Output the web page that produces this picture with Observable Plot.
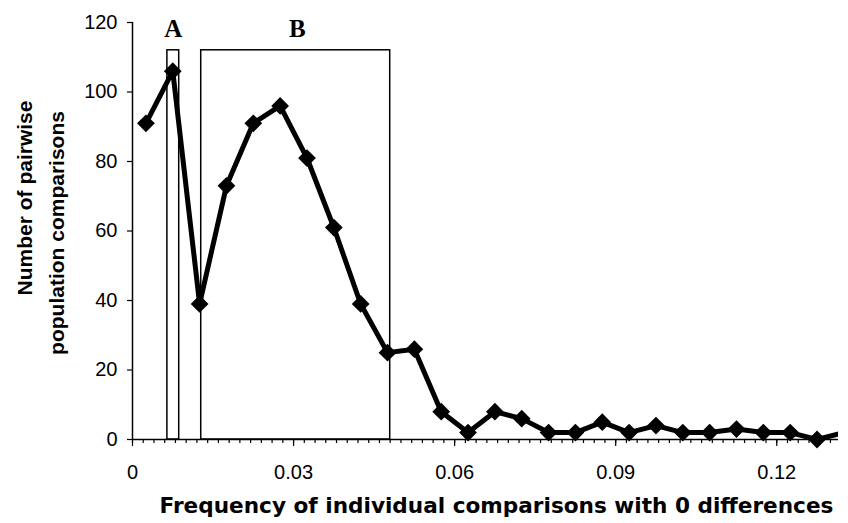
<!DOCTYPE html>
<html>
<head>
<meta charset="utf-8">
<script src="https://cdn.jsdelivr.net/npm/d3@7"></script>
<script src="https://cdn.jsdelivr.net/npm/@observablehq/plot@0.6"></script>
<style>
  html, body { margin: 0; padding: 0; background: #fff; }
  #chart svg { display: block; }
</style>
</head>
<body>
<div id="chart"></div>
<script>
// Bin centres (frequency of individual comparisons with 0 differences)
const freq = [0.0025, 0.0075, 0.0125, 0.0175, 0.0225, 0.0275, 0.0325, 0.0375, 0.0425, 0.0475,
              0.0525, 0.0575, 0.0625, 0.0675, 0.0725, 0.0775, 0.0825, 0.0875, 0.0925, 0.0975,
              0.1025, 0.1075, 0.1125, 0.1175, 0.1225, 0.1275, 0.1325];
// Number of pairwise population comparisons
const counts = [91, 106, 39, 73, 91, 96, 81, 61, 39, 25,
                26, 8, 2, 8, 6, 2, 2, 5, 2, 4,
                2, 2, 3, 2, 2, 0, 2];
// Highlighted regions
const regionNames = ["A", "B"];
const regionStart = [0.0065, 0.0128];
const regionEnd = [0.0087, 0.0480];
const regionTop = [112, 112];
const regionLabelX = [0.0076, 0.0307];
const regionLabelY = [118, 118];
// Axes
const xTickLabels = [0, 0.03, 0.06, 0.09, 0.12];
const xMinorStep = 0.002;
const yTicks = [0, 20, 40, 60, 80, 100, 120];
const xMax = 0.1315;
const yTitleLines = ["Number of pairwise", "population comparisons"];

const data = freq.map((f, i) => ({x: f, y: counts[i]}));
const regions = regionNames.map((n, i) => ({name: n, x1: regionStart[i], x2: regionEnd[i], top: regionTop[i], lx: regionLabelX[i], ly: regionLabelY[i]}));
const minorTicks = d3.range(0, xMax + 1e-9, xMinorStep);

const chart = Plot.plot({
  width: 848,
  height: 523,
  marginLeft: 132,
  marginRight: 10,
  marginTop: 22,
  marginBottom: 84,
  style: {fontFamily: "'Liberation Sans', Arial, sans-serif", fontSize: "20px", color: "#000", background: "#fff"},
  x: {domain: [0, xMax]},
  y: {domain: [0, 120]},
  marks: [
    // region boxes
    Plot.rect(regions, {x1: "x1", x2: "x2", y1: 0, y2: "top", fill: "none", stroke: "#000", strokeWidth: 1.5}),
    Plot.text(regions, {x: "lx", y: "ly", text: "name", fontFamily: "'Liberation Serif', 'Times New Roman', serif", fontWeight: "bold", fontSize: 25, fill: "#000"}),
    // axes
    Plot.axisX(minorTicks, {tickSize: 4, text: null, stroke: "#000", strokeWidth: 1.2}),
    Plot.axisX(xTickLabels, {tickSize: 7, tickPadding: 18, tickFormat: d => d === 0 ? "0" : d3.format(".2f")(d), fontSize: 20, stroke: "#000", strokeWidth: 1.2, fill: "#000", label: null}),
    Plot.axisY(yTicks, {tickSize: 5, tickPadding: 10, fontSize: 20, stroke: "#000", strokeWidth: 1.2, fill: "#000", label: null}),
    Plot.ruleX([0], {stroke: "#000", strokeWidth: 1.5}),
    Plot.ruleY([0], {stroke: "#000", strokeWidth: 1.5}),
    // data
    Plot.line(data, {x: "x", y: "y", stroke: "#000", strokeWidth: 5, strokeLinejoin: "round", clip: true}),
    Plot.dot(data.filter(d => d.x <= xMax), {x: "x", y: "y", symbol: "diamond2", r: 8, fill: "#000", stroke: "none"}),
    // axis titles
    Plot.text([yTitleLines[0]], {frameAnchor: "left", textAnchor: "middle", dx: -107, dy: -33, rotate: -90, fontWeight: "bold", fontSize: 21, fill: "#000"}),
    Plot.text([yTitleLines[1]], {frameAnchor: "left", textAnchor: "middle", dx: -75, dy: 2, rotate: -90, fontWeight: "bold", fontSize: 21, fill: "#000"}),
    Plot.text(["Frequency of individual comparisons with 0 differences"], {frameAnchor: "bottom", textAnchor: "middle", dx: 11, dy: 73, fontFamily: "'DejaVu Sans', sans-serif", fontWeight: "bold", fontSize: 21.6, fill: "#000"})
  ]
});
document.getElementById("chart").appendChild(chart);
</script>
</body>
</html>
